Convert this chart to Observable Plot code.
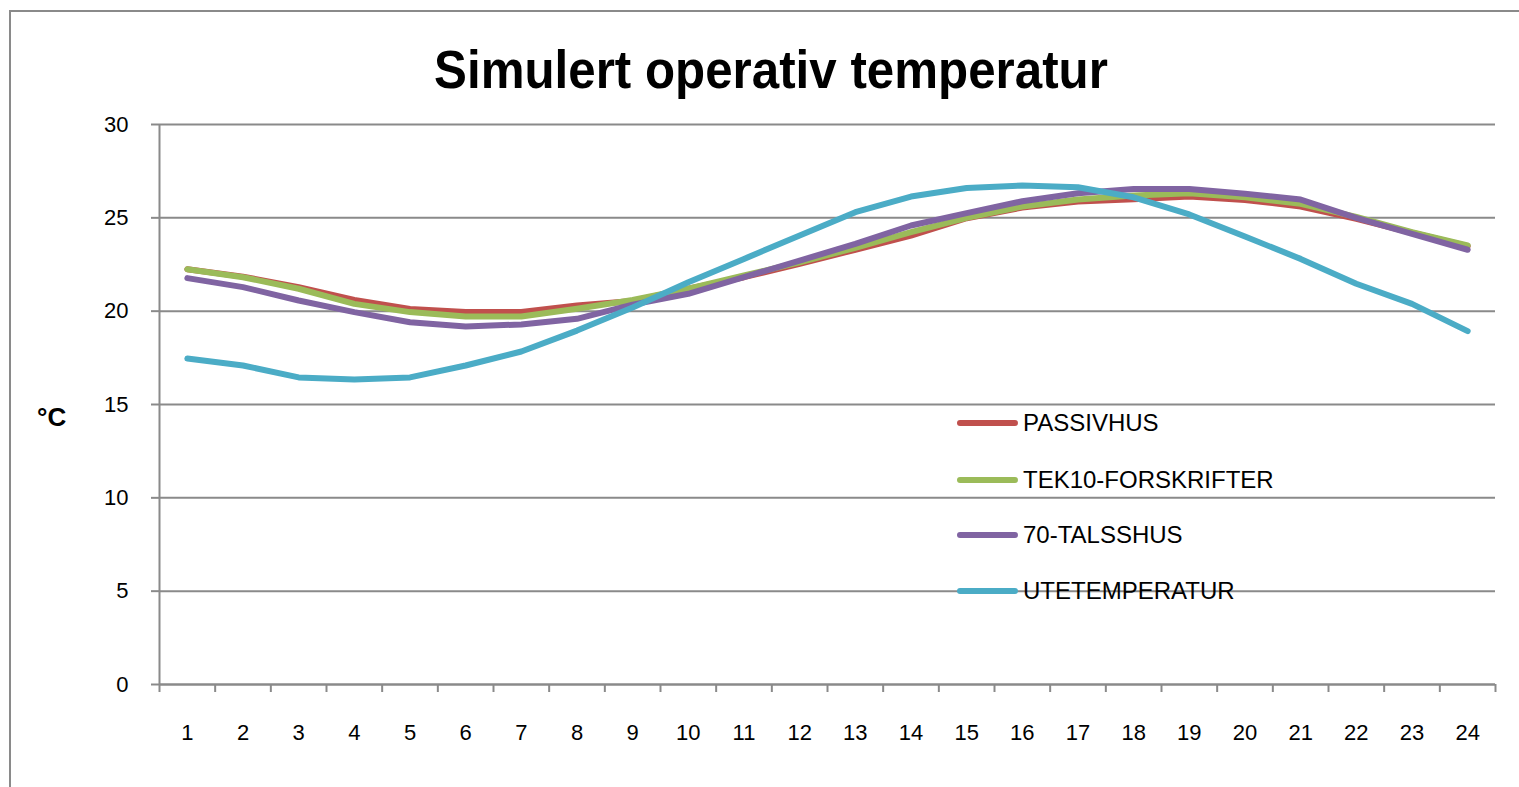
<!DOCTYPE html>
<html>
<head>
<meta charset="utf-8">
<script src="https://cdn.jsdelivr.net/npm/d3@7"></script>
<script src="https://cdn.jsdelivr.net/npm/@observablehq/plot@0.6"></script>
<style>
  html, body { margin: 0; padding: 0; background: #fff; overflow: hidden; }
  #wrap { position: relative; width: 1519px; height: 787px; overflow: hidden; }
  #frame { position: absolute; left: 9px; top: 10px; width: 1600px; height: 900px;
           border-left: 2px solid #8a8a8a; border-top: 2px solid #8a8a8a; }
  #title { position: absolute; left: 0; width: 1542px; top: 38px; text-align: center;
           font-family: "Liberation Sans", Arial, sans-serif;
           font-weight: bold; font-size: 53px; line-height: 64px; color: #000;
           transform: scaleX(0.93); transform-origin: 771px 0; }
  #ylab { position: absolute; left: 37px; top: 402px; font-family: "Liberation Sans", Arial, sans-serif;
          font-weight: bold; font-size: 26px; line-height: 30px; color: #000; }
  #legend { position: absolute; left: 957px; top: 0; font-family: "Liberation Sans", Arial, sans-serif;
            font-size: 24px; color: #000; }
  .item { position: absolute; left: 0; height: 30px; display: flex; align-items: center; white-space: nowrap; }
  .sw { width: 61px; height: 6px; border-radius: 3px; margin-right: 5px; }
  #chart { position: absolute; left: 0; top: 0; }
</style>
</head>
<body>
<div id="wrap">
  <div id="frame"></div>
  <div id="chart"></div>
  <div id="title"></div>
  <div id="ylab"></div>
  <div id="legend"></div>
</div>
<script>
const titleText = "Simulert operativ temperatur";
const yLabel = "°C";
const hours = [1,2,3,4,5,6,7,8,9,10,11,12,13,14,15,16,17,18,19,20,21,22,23,24];
const seriesNames = ["PASSIVHUS", "TEK10-FORSKRIFTER", "70-TALSSHUS", "UTETEMPERATUR"];
const seriesColors = ["#C0504D", "#9BBB59", "#8064A2", "#4BACC6"];
const passivhus = [22.25, 21.85, 21.29, 20.6, 20.12, 19.95, 19.95, 20.3, 20.55, 21.2, 21.82, 22.54, 23.29, 24.05, 24.98, 25.55, 25.88, 26.0, 26.14, 25.96, 25.61, 24.95, 24.2, 23.48];
const tek10 = [22.25, 21.82, 21.2, 20.39, 19.95, 19.71, 19.71, 20.13, 20.6, 21.2, 21.91, 22.62, 23.39, 24.23, 25.0, 25.61, 25.98, 26.2, 26.32, 26.1, 25.75, 25.05, 24.23, 23.52];
const talsshus = [21.77, 21.29, 20.57, 19.95, 19.41, 19.18, 19.29, 19.59, 20.35, 20.93, 21.82, 22.71, 23.6, 24.59, 25.25, 25.89, 26.32, 26.55, 26.55, 26.29, 25.98, 25.0, 24.14, 23.29];
const utetemperatur = [17.46, 17.09, 16.45, 16.34, 16.45, 17.09, 17.84, 18.96, 20.2, 21.55, 22.8, 24.05, 25.3, 26.14, 26.6, 26.73, 26.64, 26.1, 25.18, 24.0, 22.8, 21.47, 20.39, 18.93];
const yTicks = [0, 5, 10, 15, 20, 25, 30];

const seriesValues = [passivhus, tek10, talsshus, utetemperatur];
const rows = [];
seriesNames.forEach((name, i) => {
  hours.forEach((h, j) => rows.push({series: name, hour: h, value: seriesValues[i][j]}));
});
const boundaries = [hours[0] - 0.5, ...hours.map(h => h + 0.5)];

const grey = "#8a8a8a";
const tickFont = '"Liberation Sans", Arial, sans-serif';

const chart = Plot.plot({
  width: 1519,
  height: 787,
  marginLeft: 159,
  marginRight: 24,
  marginTop: 124,
  marginBottom: 103,
  style: {fontFamily: tickFont, fontSize: "22px", color: "#000", background: "transparent", overflow: "visible"},
  x: {type: "linear", domain: [boundaries[0], boundaries[boundaries.length - 1]]},
  y: {domain: [0, 30]},
  color: {domain: seriesNames, range: seriesColors},
  marks: [
    Plot.gridY(yTicks, {stroke: grey, strokeOpacity: 1, strokeWidth: 2}),
    Plot.ruleX([boundaries[0]], {stroke: grey, strokeWidth: 2}),
    Plot.ruleY([0], {stroke: grey, strokeWidth: 2}),
    Plot.axisY({ticks: yTicks, tickSize: 8, tickPadding: 23, stroke: grey, strokeWidth: 2, strokeOpacity: 1, fill: "#000", label: null, tickFormat: d => String(d)}),
    Plot.axisX({ticks: boundaries, tickSize: 8, tickFormat: () => "", stroke: grey, strokeWidth: 2, strokeOpacity: 1, label: null}),
    Plot.axisX({ticks: hours, tickSize: 0, tickPadding: 40, fill: "#000", label: null, tickFormat: d => String(d)}),
    Plot.line(rows, {x: "hour", y: "value", z: "series", stroke: "series", strokeWidth: 6, strokeLinejoin: "round", strokeLinecap: "round"})
  ]
});
document.getElementById("chart").appendChild(chart);

document.getElementById("title").textContent = titleText;
document.getElementById("ylab").textContent = yLabel;
const legendTops = [408, 465, 520, 576];
const legend = document.getElementById("legend");
seriesNames.forEach((name, i) => {
  const item = document.createElement("div");
  item.className = "item";
  item.style.top = legendTops[i] + "px";
  const sw = document.createElement("div");
  sw.className = "sw";
  sw.style.background = seriesColors[i];
  const t = document.createElement("span");
  t.textContent = name;
  item.appendChild(sw);
  item.appendChild(t);
  legend.appendChild(item);
});
</script>
</body>
</html>
